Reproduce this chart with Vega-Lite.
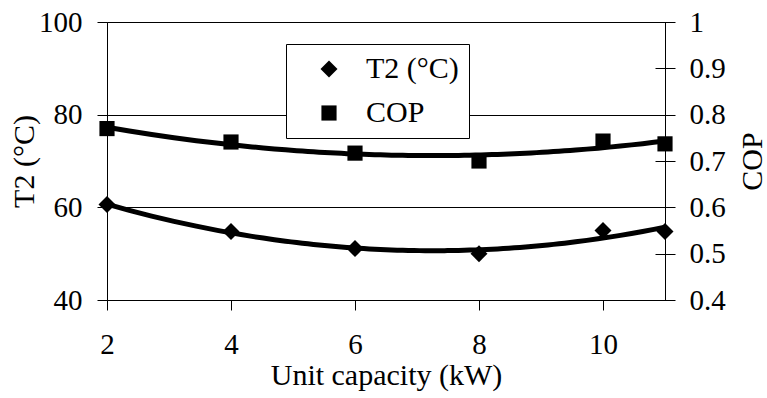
{
  "$schema": "https://vega.github.io/schema/vega-lite/v6.json",
  "width": 558,
  "height": 278,
  "autosize": {"type": "none"},
  "padding": {"left": 107, "top": 22, "right": 102, "bottom": 98},
  "background": "white",
  "config": {
    "view": {"stroke": "black", "strokeWidth": 1},
    "font": "Liberation Serif",
    "axis": {
      "labelFont": "Liberation Serif",
      "titleFont": "Liberation Serif",
      "labelColor": "black",
      "titleColor": "black",
      "tickColor": "black",
      "tickWidth": 1,
      "labelFontSize": 29,
      "titleFontSize": 30,
      "titleFontWeight": "normal",
      "domain": false,
      "labelOverlap": false,
      "labelFlush": false
    },
    "legend": {
      "labelFont": "Liberation Serif",
      "labelFontSize": 30,
      "labelColor": "black"
    }
  },
  "data": {
    "values": [
      {"kW": 2, "series": "T2 (°C)", "value": 60.6},
      {"kW": 4, "series": "T2 (°C)", "value": 54.8},
      {"kW": 6, "series": "T2 (°C)", "value": 51.1},
      {"kW": 8, "series": "T2 (°C)", "value": 50.0},
      {"kW": 10, "series": "T2 (°C)", "value": 55.0},
      {"kW": 11, "series": "T2 (°C)", "value": 54.8},
      {"kW": 2, "series": "COP", "value": 0.770},
      {"kW": 4, "series": "COP", "value": 0.741},
      {"kW": 6, "series": "COP", "value": 0.717},
      {"kW": 8, "series": "COP", "value": 0.700},
      {"kW": 10, "series": "COP", "value": 0.743},
      {"kW": 11, "series": "COP", "value": 0.737}
    ]
  },
  "layer": [
    {
      "transform": [{"filter": "datum.series === 'T2 (°C)'"}],
      "encoding": {
        "x": {
          "field": "kW",
          "type": "quantitative",
          "scale": {"domain": [2, 11], "nice": false, "zero": false},
          "axis": {
            "values": [2, 4, 6, 8, 10],
            "format": "d",
            "tickSize": 10,
            "labelPadding": 20,
            "grid": false,
            "title": "Unit capacity (kW)",
            "titlePadding": 1
          }
        },
        "y": {
          "field": "value",
          "type": "quantitative",
          "scale": {"domain": [40, 100], "nice": false, "zero": false},
          "axis": {
            "orient": "left",
            "values": [40, 60, 80, 100],
            "tickSize": 10,
            "labelPadding": 15,
            "grid": true,
            "gridColor": "black",
            "gridOpacity": 1,
            "gridWidth": 1,
            "title": "T2 (°C)",
            "titleAngle": 270,
            "titleX": -74,
            "titleBaseline": "alphabetic"
          }
        }
      },
      "layer": [
        {
          "transform": [{"regression": "value", "on": "kW", "method": "poly", "order": 2}],
          "mark": {"type": "line", "color": "black", "strokeWidth": 5}
        },
        {
          "mark": {"type": "point", "filled": true, "color": "black", "opacity": 1, "strokeWidth": 0},
          "encoding": {
            "shape": {
              "field": "series",
              "type": "nominal",
              "scale": {"domain": ["T2 (°C)", "COP"], "range": ["diamond", "square"]},
              "legend": {
                "orient": "none",
                "legendX": 179,
                "legendY": 22,
                "title": null,
                "padding": 10,
                "symbolOffset": 18,
                "labelOffset": 22,
                "rowPadding": 14,
                "strokeColor": "black",
                "fillColor": "white",
                "symbolFillColor": "black",
                "symbolStrokeWidth": 0,
                "symbolOpacity": 1
              }
            },
            "size": {
              "field": "series",
              "type": "nominal",
              "scale": {"domain": ["T2 (°C)", "COP"], "range": [289, 230]},
              "legend": {
                "orient": "none",
                "legendX": 179,
                "legendY": 22,
                "title": null,
                "padding": 10,
                "symbolOffset": 18,
                "labelOffset": 22,
                "rowPadding": 14,
                "strokeColor": "black",
                "fillColor": "white",
                "symbolFillColor": "black",
                "symbolStrokeWidth": 0,
                "symbolOpacity": 1
              }
            }
          }
        }
      ]
    },
    {
      "transform": [{"filter": "datum.series === 'COP'"}],
      "encoding": {
        "x": {"field": "kW", "type": "quantitative"},
        "y": {
          "field": "value",
          "type": "quantitative",
          "scale": {"domain": [0.4, 1], "nice": false, "zero": false},
          "axis": {
            "orient": "right",
            "values": [0.4, 0.5, 0.6, 0.7, 0.8, 0.9, 1],
            "format": ".1~f",
            "tickSize": 20,
            "offset": -10,
            "labelPadding": 14,
            "grid": false,
            "title": "COP",
            "titleAngle": 270,
            "titleX": 106,
            "titleBaseline": "alphabetic"
          }
        }
      },
      "layer": [
        {
          "transform": [{"regression": "value", "on": "kW", "method": "poly", "order": 2}],
          "mark": {"type": "line", "color": "black", "strokeWidth": 5}
        },
        {
          "mark": {"type": "point", "filled": true, "color": "black", "opacity": 1, "strokeWidth": 0},
          "encoding": {
            "shape": {"field": "series", "type": "nominal"},
            "size": {"field": "series", "type": "nominal"}
          }
        }
      ]
    }
  ],
  "resolve": {"scale": {"y": "independent"}}
}
